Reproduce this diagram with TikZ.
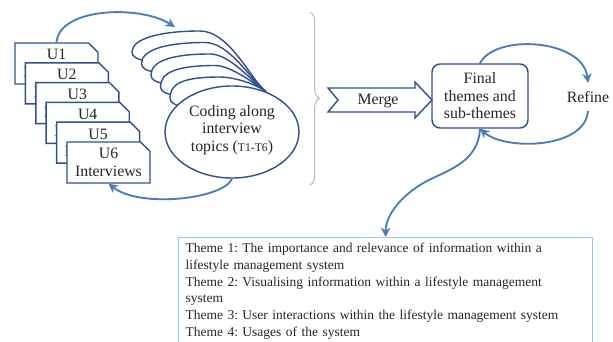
\documentclass[tikz,border=0pt]{standalone}
\usepackage{fontspec}
\setmainfont{Liberation Serif}
\usetikzlibrary{arrows.meta, shapes.geometric, shapes.misc, decorations.pathreplacing}
\definecolor{flowblue}{HTML}{4A7EBB}
\definecolor{edgeblue}{HTML}{2F528F}
\definecolor{paleblue}{HTML}{9DC3E6}
\definecolor{bracegray}{HTML}{A6B9D3}
\tikzset{>={Stealth[length=8pt,width=8pt,inset=2.5pt]},
  flow/.style={->, draw=flowblue, line width=1.6pt},
  lbl/.style={align=center, font=\fontsize{13.5}{15}\selectfont, text=black!85},
  doc/.style={lbl, chamfered rectangle, chamfered rectangle corners=north east,
    chamfered rectangle xsep=3pt, chamfered rectangle ysep=5pt, draw=edgeblue,
    line width=1.2pt, fill=white, minimum width=2.49cm, minimum height=1.23cm, inner sep=0pt},
  topic/.style={ellipse, draw=edgeblue, line width=1.2pt, fill=white}}

\begin{document}
\begin{tikzpicture}[x=0.03cm, y=-0.03cm]
\useasboundingbox (0,0) rectangle (613,342);
\foreach \k in {1,...,6}
  \node[doc] (u\k) at ({56.5+10.4*(\k-1)},{63.5+19.8*(\k-1)}) {U\k\\Interviews};
\node[topic, draw=none, fill=none, minimum width=4.02cm, minimum height=2.76cm] (coding) at (232,132) {};
% stacked topic sheets behind the front one
\foreach \k in {0,...,4}
  \draw[edgeblue, line width=1.2pt, fill=white] ({146+9.5*\k},{61+11.5*\k})
    .. controls +(-9,-2) and +(0,5) .. ({132+9.5*\k},{52+11.5*\k})
    .. controls +(0,-14) and +(-38,0) .. ({200+5*\k},{31+11.5*\k})
    .. controls +(30-5*\k,0) and +(-14,-10) .. (coding.50);
\node[topic, minimum width=4.02cm, minimum height=2.76cm] at (coding) {};
\node[lbl] (codingtxt) at (232,130) {Coding along\\interview\\topics ({\fontsize{10}{12}\selectfont T1-T6})};
\coordinate (codein) at (175,27);
\draw[bracegray, line width=0.8pt, decorate, decoration={brace, amplitude=8pt}] (310,12) -- (310,185);
\draw[edgeblue, line width=1.2pt, fill=white] (328,88) -- (415,88) -- (415,82) -- (432,100)
  -- (415,118) -- (415,112) -- (328,112) -- (338,100) -- cycle;
\node[lbl] (merge) at (378,101) {Merge};
\node[lbl, draw=edgeblue, line width=1.2pt, rounded corners=7pt, minimum width=2.88cm,
  minimum height=1.92cm] (final) at (480,96) {Final\\themes and\\sub-themes};
\node[lbl, inner ysep=7pt] (refine) at (588,97) {Refine};
\node[draw=paleblue, line width=1pt, anchor=north west, text width=12cm, inner xsep=6pt,
  inner ysep=5pt, align=left, text=black!85, font=\fontsize{11.5}{14.2}\selectfont\frenchspacing] (themes) at (178,237)
  {Theme 1: The importance and relevance of information within a\\
   lifestyle management system\\
   Theme 2: Visualising information within a lifestyle management\\
   system\\
   Theme 3: User interactions within the lifestyle management system\\
   Theme 4: Usages of the system};
\coordinate (bend) at (420,185);
\draw[flow] (u1.north) .. controls +(3,-35) and +(-35,-22) .. (codein);
\draw[flow] (coding.south) .. controls +(-8,20) and +(32,25) .. (u6.south);
\draw[flow] (final.north) .. controls +(15,-30) and +(-5,-44) .. (refine.north);
\draw[flow] (refine.south) .. controls +(-3,38) and +(25,22) .. (final.south);
\draw[flow] (final.south) .. controls +(-2,37) and +(22,-14) .. (bend)
  .. controls +(-22,14) and +(0,-20) .. (themes.north);
\end{tikzpicture}
\end{document}
